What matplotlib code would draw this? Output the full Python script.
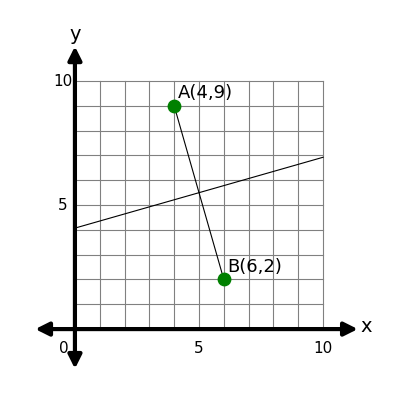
import matplotlib
matplotlib.use("Agg")
import matplotlib.pyplot as plt

points_x = [4, 6]
points_y = [9, 2]
point_labels = ["A(4,9)", "B(6,2)"]
line_x = [0, 10]
line_y = [5.5 - 10/7, 5.5 + 10/7]
ticks = [5, 10]

fig = plt.figure(figsize=(4, 4), dpi=100)
ax = fig.add_axes([0, 0, 1, 1])
ax.set_xlim(-3.02, 13.1)
ax.set_ylim(-2.86, 13.27)
ax.axis("off")

for i in range(11):
    ax.plot([i, i], [0, 10], color="gray", lw=0.8, zorder=1)
    ax.plot([0, 10], [i, i], color="gray", lw=0.8, zorder=1)

ap = dict(arrowstyle="-|>,head_length=0.8,head_width=0.4", color="black", lw=3, shrinkA=0, shrinkB=0)
ax.annotate("", xy=(11.4, 0), xytext=(0, 0), arrowprops=ap, zorder=3)
ax.annotate("", xy=(-1.6, 0), xytext=(0, 0), arrowprops=ap, zorder=3)
ax.annotate("", xy=(0, 11.4), xytext=(0, 0), arrowprops=ap, zorder=3)
ax.annotate("", xy=(0, -1.6), xytext=(0, 0), arrowprops=ap, zorder=3)

ax.plot(line_x, line_y, color="black", lw=0.8, zorder=2)
ax.plot(points_x, points_y, color="black", lw=0.8, zorder=2)
ax.scatter(points_x, points_y, s=80, color="green", zorder=4)
for x, y, t in zip(points_x, points_y, point_labels):
    ax.text(x + 0.15, y + 0.15, t, fontsize=13, ha="left", va="bottom")

for t in ticks:
    ax.text(t, -0.5, str(t), fontsize=11, ha="center", va="top")
    ax.text(-0.5, t, str(t), fontsize=11, ha="center", va="center")
ax.text(-0.45, -0.5, "0", fontsize=11, ha="center", va="top")
ax.text(11.5, 0.1, "x", fontsize=14, ha="left", va="center")
ax.text(0, 11.5, "y", fontsize=14, ha="center", va="bottom")

fig.savefig("out.png", dpi=100)
